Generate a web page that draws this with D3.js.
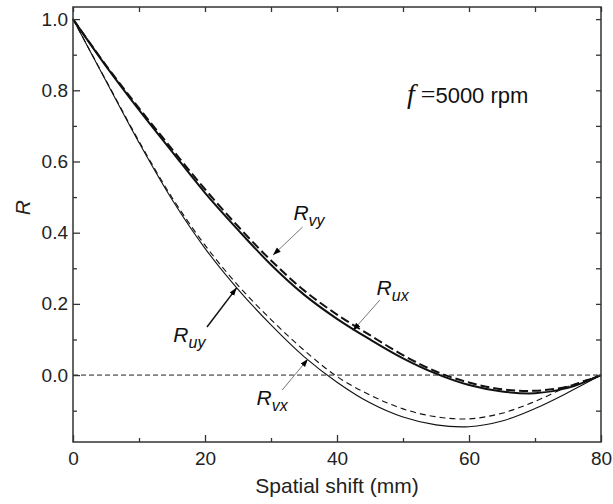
<!DOCTYPE html>
<html>
<head>
<meta charset="utf-8">
<script src="https://cdn.jsdelivr.net/npm/d3@7"></script>
<style>
  body { margin: 0; background: #fff; }
  svg { display: block; }
</style>
</head>
<body>
<div id="chart"></div>
<script>
// Data
const shift = [0, 5, 10, 15, 20, 25, 30, 35, 40, 45, 50, 55, 60, 65, 70, 75, 80];
const Rux = [1.0, 0.868, 0.745, 0.628, 0.512, 0.408, 0.31, 0.226, 0.158, 0.1, 0.047, 0.004, -0.028, -0.046, -0.051, -0.036, 0.0];
const Rvy = [1.0, 0.87, 0.75, 0.635, 0.522, 0.418, 0.322, 0.238, 0.17, 0.112, 0.056, 0.01, -0.021, -0.04, -0.044, -0.032, 0.0];
const Ruy = [1.0, 0.826, 0.653, 0.493, 0.356, 0.241, 0.141, 0.052, -0.02, -0.078, -0.118, -0.14, -0.145, -0.129, -0.094, -0.049, 0.0];
const Rvx = [1.0, 0.828, 0.657, 0.499, 0.365, 0.252, 0.156, 0.07, -0.004, -0.056, -0.095, -0.117, -0.123, -0.107, -0.074, -0.032, 0.0];

const xMajor = [0, 20, 40, 60, 80];
const xMinor = [10, 30, 50, 70];
const yMajor = [0, 0.2, 0.4, 0.6, 0.8, 1.0];
const yMinor = [-0.1, 0.1, 0.3, 0.5, 0.7, 0.9];

// label name, subscript, label anchor (data), arrow start, arrow tip
const labels = [
  { name: "R", sub: "vy", at: [33.4, 0.435], from: [34.8, 0.416], to: [30.3, 0.337], dark: false },
  { name: "R", sub: "ux", at: [46.0, 0.225], from: [46.5, 0.211], to: [42.4, 0.125], dark: false },
  { name: "R", sub: "uy", at: [15.2, 0.092], from: [20.3, 0.135], to: [24.8, 0.245], dark: true },
  { name: "R", sub: "vx", at: [27.8, -0.085], from: [31.7, -0.042], to: [35.6, 0.045], dark: false },
];

// Dimensions
const dims = { width: 613, height: 504, left: 73, right: 601, top: 7, bottom: 442 };

const svg = d3.select("#chart")
  .append("svg")
  .attr("width", dims.width)
  .attr("height", dims.height)
  .style("font-family", "'Liberation Sans', Arial, sans-serif");

// Scales
const xScale = d3.scaleLinear().domain([0, 80]).range([dims.left, dims.right]);
const yScale = d3.scaleLinear().domain([-0.188, 1.034]).range([dims.bottom, dims.top]);

// Arrow head
svg.append("defs")
  .append("marker")
  .attr("id", "head")
  .attr("viewBox", "0 0 10 10")
  .attr("refX", 10)
  .attr("refY", 5)
  .attr("markerWidth", 8)
  .attr("markerHeight", 8)
  .attr("markerUnits", "userSpaceOnUse")
  .attr("orient", "auto")
  .append("path")
  .attr("d", "M0,1.5 L10,5 L0,8.5 Z")
  .attr("fill", "#000");

// Zero reference line
svg.append("line")
  .attr("x1", xScale(0))
  .attr("x2", xScale(80))
  .attr("y1", yScale(0))
  .attr("y2", yScale(0))
  .attr("stroke", "#222")
  .attr("stroke-width", 1)
  .attr("stroke-dasharray", "5,3");

// Curves
const line = d3.line()
  .x((d) => xScale(d[0]))
  .y((d) => yScale(d[1]))
  .curve(d3.curveCatmullRom.alpha(0.5));

const series = [
  { values: Ruy, width: 1.1, dash: null },
  { values: Rvx, width: 1.1, dash: "6,4" },
  { values: Rux, width: 2, dash: null },
  { values: Rvy, width: 2, dash: "9,4" },
];

series.forEach((s) => {
  svg.append("path")
    .datum(d3.zip(shift, s.values))
    .attr("d", line)
    .attr("fill", "none")
    .attr("stroke", "#111")
    .attr("stroke-width", s.width)
    .attr("stroke-dasharray", s.dash);
});

// Axes
const tickStyle = (g) => {
  g.select(".domain").remove();
  g.selectAll(".tick line").attr("stroke", "#333").attr("stroke-width", 1.3);
  g.selectAll(".tick text").attr("fill", "#222").style("font-size", "19px");
};

const addAxis = (axis, transform) => {
  svg.append("g")
    .attr("transform", transform)
    .call(axis)
    .call(tickStyle);
};

addAxis(d3.axisBottom(xScale).tickValues(xMajor).tickSize(-7).tickPadding(10).tickFormat(d3.format("d")),
  `translate(0,${dims.bottom})`);
addAxis(d3.axisBottom(xScale).tickValues(xMinor).tickSize(-4).tickFormat(""),
  `translate(0,${dims.bottom})`);
addAxis(d3.axisTop(xScale).tickValues(xMajor.concat(xMinor)).tickSize(-5).tickFormat(""),
  `translate(0,${dims.top})`);
addAxis(d3.axisLeft(yScale).tickValues(yMajor).tickSize(-7).tickPadding(5).tickFormat(d3.format(".1f")),
  `translate(${dims.left},0)`);
addAxis(d3.axisLeft(yScale).tickValues(yMinor).tickSize(-4).tickFormat(""),
  `translate(${dims.left},0)`);
addAxis(d3.axisRight(yScale).tickValues(yMajor.concat(yMinor)).tickSize(-5).tickFormat(""),
  `translate(${dims.right},0)`);

// Frame
svg.append("rect")
  .attr("x", dims.left)
  .attr("y", dims.top)
  .attr("width", dims.right - dims.left)
  .attr("height", dims.bottom - dims.top)
  .attr("fill", "none")
  .attr("stroke", "#333")
  .attr("stroke-width", 1.5);

// Axis titles
svg.append("text")
  .attr("x", xScale(40))
  .attr("y", 493)
  .attr("text-anchor", "middle")
  .attr("fill", "#222")
  .style("font-size", "21px")
  .text("Spatial shift (mm)");

svg.append("text")
  .attr("transform", `translate(30,${yScale(0.47)}) rotate(-90)`)
  .attr("text-anchor", "middle")
  .attr("fill", "#222")
  .style("font-size", "21px")
  .style("font-style", "italic")
  .text("R");

// Speed annotation
const speed = svg.append("text")
  .attr("x", xScale(50.6))
  .attr("y", yScale(0.764))
  .attr("fill", "#111")
  .style("font-size", "22px");
speed.append("tspan")
  .style("font-family", "'Liberation Serif', 'Times New Roman', serif")
  .style("font-style", "italic")
  .style("font-size", "28px")
  .text("f");
speed.append("tspan")
  .attr("dx", 6)
  .style("font-family", "'Liberation Serif', 'Times New Roman', serif")
  .style("font-size", "26px")
  .text("=");
speed.append("tspan").text("5000 rpm");

// Curve labels with arrows
labels.forEach((l) => {
  svg.append("line")
    .attr("x1", xScale(l.from[0]))
    .attr("y1", yScale(l.from[1]))
    .attr("x2", xScale(l.to[0]))
    .attr("y2", yScale(l.to[1]))
    .attr("stroke", l.dark ? "#111" : "#777")
    .attr("stroke-width", l.dark ? 1.5 : 1)
    .attr("marker-end", "url(#head)");

  const t = svg.append("text")
    .attr("x", xScale(l.at[0]))
    .attr("y", yScale(l.at[1]))
    .attr("fill", "#111")
    .style("font-style", "italic")
    .style("font-size", "21px");
  t.append("tspan").text(l.name);
  t.append("tspan")
    .attr("dy", 6)
    .style("font-size", "16px")
    .text(l.sub);
});
</script>
</body>
</html>
